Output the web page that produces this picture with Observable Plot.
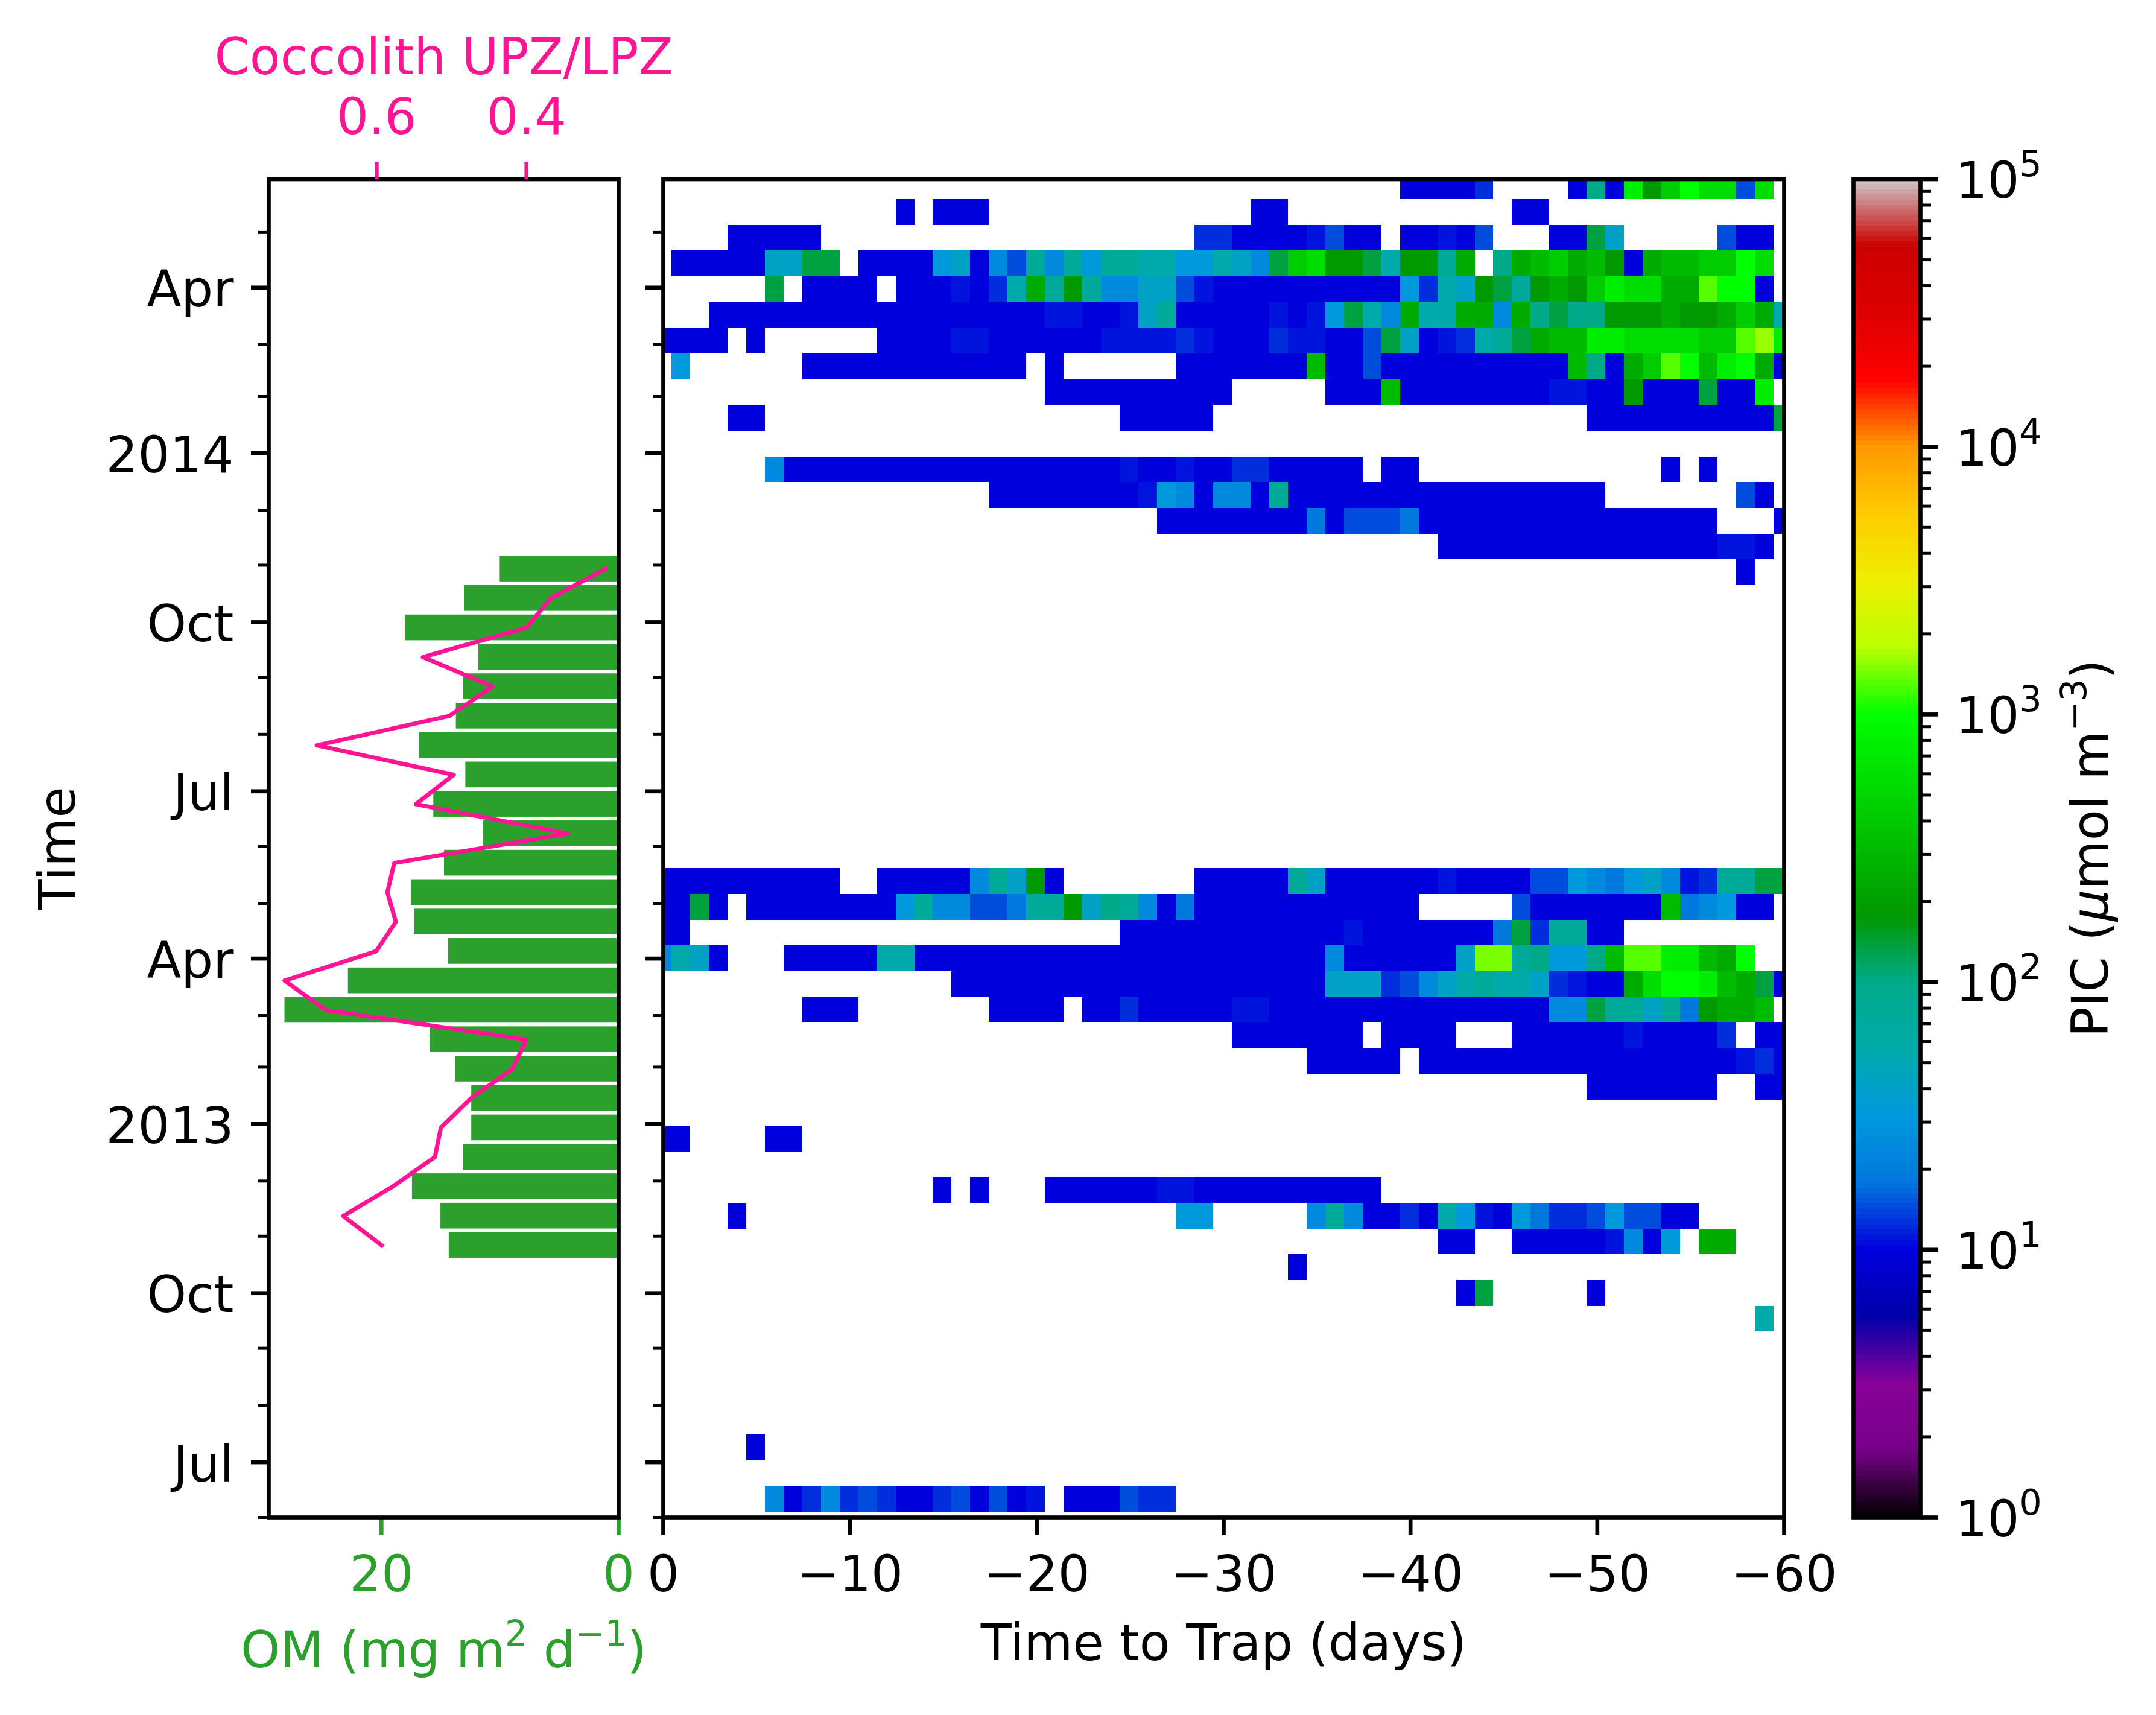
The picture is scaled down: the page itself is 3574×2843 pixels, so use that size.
<!DOCTYPE html>
<html>
<head>
<meta charset="utf-8">
<script src="https://cdn.jsdelivr.net/npm/d3@7"></script>
<script src="https://cdn.jsdelivr.net/npm/@observablehq/plot@0.6"></script>
<style>
html,body{margin:0;padding:0;background:#fff;}
#page{position:relative;width:3574px;height:2843px;overflow:hidden;background:#fff;}
#page svg{position:absolute;left:0;top:0;max-width:none;}
</style>
</head>
<body>
<div id="page"></div>
<script>
// ---- Data ----
const omBinDates = ["2012-10-27","2012-11-12","2012-11-28","2012-12-14","2012-12-30","2013-01-15","2013-01-31","2013-02-16","2013-03-04","2013-03-20","2013-04-05","2013-04-21","2013-05-07","2013-05-23","2013-06-08","2013-06-24","2013-07-10","2013-07-26","2013-08-11","2013-08-27","2013-09-12","2013-09-28","2013-10-14","2013-10-30"];
const omFlux = [14.3,15.0,17.4,13.1,12.4,12.4,13.75,15.9,28.15,22.8,14.35,17.2,17.5,14.7,11.4,15.6,12.9,16.8,13.7,13.1,11.8,18.0,13.0,10.0];
const coccolithRatio = [0.5933,0.6446,0.5785,0.5223,0.5143,0.4741,0.4187,0.3999,0.6679,0.7229,0.6005,0.5744,0.5857,0.5765,0.3449,0.5476,0.497,0.6799,0.503,0.4452,0.5383,0.4,0.3677,0.2948];

// One code per concentration level (µmol m-3)
const picCodes  = ["b","c","d","e","f","g","h","i","j","k","l","m","n","o","p","q","r","s","t","u","w","v"];
const picValues = [10,11,12.5,14.5,18,24,32,42,56,75,100,135,178,240,316,420,562,750,1000,1300,1450,1600];

// Rows from newest (top) to oldest; columns are days 0..60 to trap, grouped in tens
const picFirstBin = "2012-06-04";
const picRows = [
".......... .......... .......... .......... bbbbd....b lbsnqtrrer.",
".......... ...b.bbb.. .......... ..bb...... ......bb.. ...........",
"....bbbbb. .......... .........d dbbbbcebb. bbcbe...bb mi.....ebb.",
".bbbbbiimm .bbbbhibge kgkhkkjjhh jigmqrnnmj nnko.lopqo pnboppqqtr.",
"......m.bb bb.bbbcbdj oknkggiiec bbbbbbbbbb hdjinmknon qsrroouttb.",
"...bbbbbbb bbbbbbbbbb bccbbcikbb bbbcbchmjg ojjoogolml lnnnonnoqoj",
"bbbb.b.... ..bbbbccbb bbbbccccdc bbbdccbbem ibcdjkmopp ssrrrrqquvs",
".h......bb bbbbbbbbbb .b......bb bbbbbpbbeb bbbbbbbbbp lboqutpstob",
".......... .......... .bbbbbbbbb b.....bbbp bbbbbbbbcc bbnbbbmbbs.",
"....bb.... .......... .....bbbbb .......... .......... bbbbbbbbbbm",
"",
"......gbbb bbbbbbbbbb bbbbbcbbcb bddbbbbb.b b......... ....b.b....",
".......... ........bb bbbbbbchgb ggbkbbbbbb bbbbbbbbbb b.......eb.",
".......... .......... .......bbb bbbbbfbeee fbbbbbbbbb bbbbbbb...b",
".......... .......... .......... .......... ..bbbbbbbb bbbbbbbccb.",
".......... .......... .......... .......... .......... ........b..",
"","","","","","","","","","","",
"bbbbbbbbbb ..bbbbbgki nb.......b bbbbkibbbb bbcbbbbeeh gfhigcdkkmm",
"bbmb.bbbbb bbbhkggeef kknilkgbfb bbbbbbbbbb b.....ebbb bbbbpfghbb.",
"bb........ .......... .....bbbbb bbbbbbbcbb bbbbbfmdkk bb.........",
"gjib...bbb bbjjbbbbbb bbbbbbbbbb bbbbbbgbbb bbbiwwklhh lpuusspot..",
".......... ......bbbb bbbbbbbbbb bbbbbbiiid egijkjjidc bborttspomb",
"........bb b.......bb bb.bbdbbbb bccbbbbbbb bbbbbbbbgg mkkikfnoop.",
".......... .......... .......... .bbbbbbb.b bbb...bbbb bbcbbbbd.bb",
".......... .......... .......... .....bbbbb .bbbbbbbbb bbbbbbbbcdb",
".......... .......... .......... .......... .......... bbbbbbb..bb",
"",
"bb....bb.. .......... .......... .......... .......... ...........",
"",
".......... .....b.b.. .bbbbbbccb bbbbbbbbb. .......... ...........",
"....b..... .......... ........hh .....gkgbb dbjhcbhfdd eheebb.....",
".......... .......... .......... .......... ..bb..bbbb bcgbh.oo...",
".......... .......... .......... ....b..... .......... ...........",
".......... .......... .......... .......... ...bm..... b..........",
".......... .......... .......... .......... .......... .........j.",
"","","","",
".....b.... .......... .......... .......... .......... ...........",
"",
"......gbdg dedbbdebeb c.bbbedd.. .......... .......... ..........."
];

const majorDates  = ["2012-07-01","2012-10-01","2013-01-01","2013-04-01","2013-07-01","2013-10-01","2014-01-01","2014-04-01"];
const majorLabels = ["Jul","Oct","2013","Apr","Jul","Oct","2014","Apr"];
const minorDates  = ["2012-06-01","2012-08-01","2012-09-01","2012-11-01","2012-12-01","2013-02-01","2013-03-01","2013-05-01","2013-06-01","2013-08-01","2013-09-01","2013-11-01","2013-12-01","2014-02-01","2014-03-01","2014-05-01"];
const timeDomain  = ["2012-06-01","2014-05-30"];
const dayTicks = [0,-10,-20,-30,-40,-50,-60];
const omTicks = [20,0];
const ratioTicks = [0.6,0.4];
const cbMajor = [1,10,100,1000,10000,100000];
const cbMinor = [2,3,4,5,6,7,8,9,20,30,40,50,60,70,80,90,200,300,400,500,600,700,800,900,2000,3000,4000,5000,6000,7000,8000,9000,20000,30000,40000,50000,60000,70000,80000,90000];
const spectralStops = ["#000000","#770088","#880099","#0000aa","#0000dd","#0077dd","#0099dd","#00aaaa","#00aa88","#009900","#00bb00","#00dd00","#00ff00","#bbff00","#eeee00","#ffcc00","#ff9900","#ff0000","#dd0000","#cc0000","#cccccc"];

// ---- Shared settings ----
const W = 3574, H = 2843, TOP = 296.5, BOTTOM = 328;
const FONT = 83.3, SPINE = 6.67, MINOR_W = 5, TICK = 29, MINOR = 17;
const GREEN = "#2ca02c", PINK = "#ff1493";
const date = s => new Date(s + "T00:00:00Z");
const pageStyle = {fontFamily:"DejaVu Sans", fontSize:FONT+"px", background:"transparent", color:"black"};
const yScale = {type:"utc", domain:timeDomain.map(date)};
const labelOf = new Map(majorDates.map((d,i)=>[+date(d), majorLabels[i]]));
const colorScale = {type:"log", domain:[1,1e5], interpolate:d3.piecewise(d3.interpolateRgb, spectralStops)};
const base = (l,r) => ({width:W, height:H, marginLeft:l, marginRight:W-r, marginTop:TOP, marginBottom:BOTTOM, style:pageStyle});
const page = document.getElementById("page");

// Rewrites a label as real text with raised or italic parts
function rich(svg, plain, parts){
  svg.querySelectorAll("text").forEach(t=>{
    if (t.textContent !== plain) return;
    t.textContent = "";
    let lift = 0;
    parts.forEach(p=>{
      const s = document.createElementNS("http://www.w3.org/2000/svg","tspan");
      const [txt,opt] = Array.isArray(p) ? p : [p,""];
      const want = opt === "sup" ? 36 : 0;
      if (want !== lift) s.setAttribute("dy", lift - want);
      lift = want;
      if (opt === "sup") s.setAttribute("font-size", FONT*0.7);
      if (opt === "it") s.setAttribute("font-style","italic");
      s.textContent = txt;
      t.appendChild(s);
    });
  });
}

// Left panel, bars on the OM scale
const omData = omBinDates.map((d,i)=>({t:date(d), om:omFlux[i], r:coccolithRatio[i],
  t1:d3.utcDay.offset(date(d),-7), t2:d3.utcDay.offset(date(d),7)}));
const omPlot = Plot.plot({...base(445,1025),
  x:{domain:[29.5,0]}, y:yScale,
  marks:[
    Plot.rectX(omData,{x1:0,x2:"om",y1:"t1",y2:"t2",fill:GREEN}),
    Plot.axisX({anchor:"bottom",ticks:omTicks,tickSize:TICK,tickPadding:34,fontSize:FONT,strokeWidth:SPINE,color:GREEN,
      label:"OM (mg m2 d-1)",labelAnchor:"center",labelArrow:"none",labelOffset:248,tickFormat:d3.format("d")}),
    Plot.axisY({anchor:"left",ticks:majorDates.map(date),tickSize:TICK,strokeWidth:SPINE,fill:"none",label:null,tickFormat:()=>""}),
    Plot.axisY({anchor:"left",ticks:majorDates.map(date),tickSize:0,fontSize:FONT,
      tickFormat:()=>"",label:"Time",labelAnchor:"center",labelArrow:"none",labelOffset:381}),
    Plot.axisY({anchor:"left",ticks:majorDates.map(date),tickSize:0,tickPadding:TICK+29,fontSize:FONT,dy:4.8,label:null,
      tickFormat:d=>labelOf.get(+d)}),
    Plot.axisY({anchor:"left",ticks:minorDates.map(date),tickSize:MINOR,strokeWidth:MINOR_W,fill:"none",label:null,tickFormat:()=>""}),
    Plot.frame({stroke:"black",strokeWidth:SPINE})
  ]});
rich(omPlot,"OM (mg m2 d-1)",["OM (mg m",["2","sup"]," d",["\u22121","sup"],")"]);
page.appendChild(omPlot);

// Left panel, ratio line on its own top scale
const ratioPlot = Plot.plot({...base(445,1025),
  x:{domain:[0.744,0.277]}, y:{...yScale,axis:null},
  marks:[
    Plot.line(omData,{x:"r",y:"t",stroke:PINK,strokeWidth:7,strokeLinejoin:"round",strokeLinecap:"square"}),
    Plot.axisX({anchor:"top",ticks:ratioTicks,tickSize:TICK,tickPadding:46,fontSize:FONT,strokeWidth:SPINE,color:PINK,
      tickFormat:d3.format(".1f"),label:"Coccolith UPZ/LPZ",labelAnchor:"center",labelArrow:"none",labelOffset:233})
  ]});
page.appendChild(ratioPlot);

// Heat panel
const picCells = [];
picRows.forEach((row,k)=>{
  const t1 = d3.utcDay.offset(date(picFirstBin),14*(picRows.length-1-k));
  const t2 = d3.utcDay.offset(t1,14);
  [...row.replace(/ /g,"")].forEach((c,i)=>{
    const j = picCodes.indexOf(c);
    if (j>=0) picCells.push({day:i, t1, t2, v:picValues[j]});
  });
});
const heatPlot = Plot.plot({...base(1099,2957),
  x:{domain:[0,-60]}, y:yScale, color:colorScale,
  marks:[
    Plot.rect(picCells,{x1:d=>-(d.day-0.55),x2:d=>-(d.day+0.45),y1:"t1",y2:"t2",fill:"v",clip:true,shapeRendering:"crispEdges"}),
    Plot.axisX({anchor:"bottom",ticks:dayTicks,tickSize:TICK,tickPadding:34,fontSize:FONT,strokeWidth:SPINE,
      tickFormat:d3.format("d"),label:"Time to Trap (days)",labelAnchor:"center",labelArrow:"none",labelOffset:236}),
    Plot.axisY({anchor:"left",ticks:majorDates.map(date),tickSize:TICK,strokeWidth:SPINE,fill:"none",label:null,tickFormat:()=>""}),
    Plot.axisY({anchor:"left",ticks:minorDates.map(date),tickSize:MINOR,strokeWidth:MINOR_W,fill:"none",label:null,tickFormat:()=>""}),
    Plot.frame({stroke:"black",strokeWidth:SPINE})
  ]});
page.appendChild(heatPlot);

// Colour bar
const barSteps = d3.range(256).map(i=>({a:Math.pow(10,5*i/256), b:Math.pow(10,5*(i+1)/256), v:Math.pow(10,5*(i+0.5)/256)}));
const barPlot = Plot.plot({...base(3072,3183),
  x:{domain:[0,1],axis:null}, y:{type:"log",domain:[1,1e5]}, color:colorScale,
  marks:[
    Plot.rect(barSteps,{x1:()=>0,x2:()=>1,y1:"a",y2:"b",fill:"v",shapeRendering:"crispEdges"}),
    Plot.axisY({anchor:"right",ticks:cbMajor,tickSize:TICK,strokeWidth:SPINE,fill:"none",label:null,tickFormat:()=>""}),
    Plot.axisY({anchor:"right",ticks:cbMajor,tickSize:0,fontSize:FONT,
      tickFormat:()=>"",label:"PIC (umol m-3)",labelAnchor:"center",labelArrow:"none",labelOffset:310}),
    Plot.axisY({anchor:"right",ticks:cbMajor,tickSize:0,tickPadding:TICK+29,fontSize:FONT,dy:4.4,label:null,
      tickFormat:d=>"10e"+Math.round(Math.log10(d))}),
    Plot.axisY({anchor:"right",ticks:cbMinor,tickSize:MINOR,strokeWidth:MINOR_W,fill:"none",label:null,tickFormat:()=>""}),
    Plot.frame({stroke:"black",strokeWidth:SPINE})
  ]});
cbMajor.forEach((d,i)=>rich(barPlot,"10e"+i,["10",[String(i),"sup"]]));
rich(barPlot,"PIC (umol m-3)",["PIC (",["\u03bc","it"],"mol m",["\u22123","sup"],")"]);
page.appendChild(barPlot);
</script>
</body>
</html>
